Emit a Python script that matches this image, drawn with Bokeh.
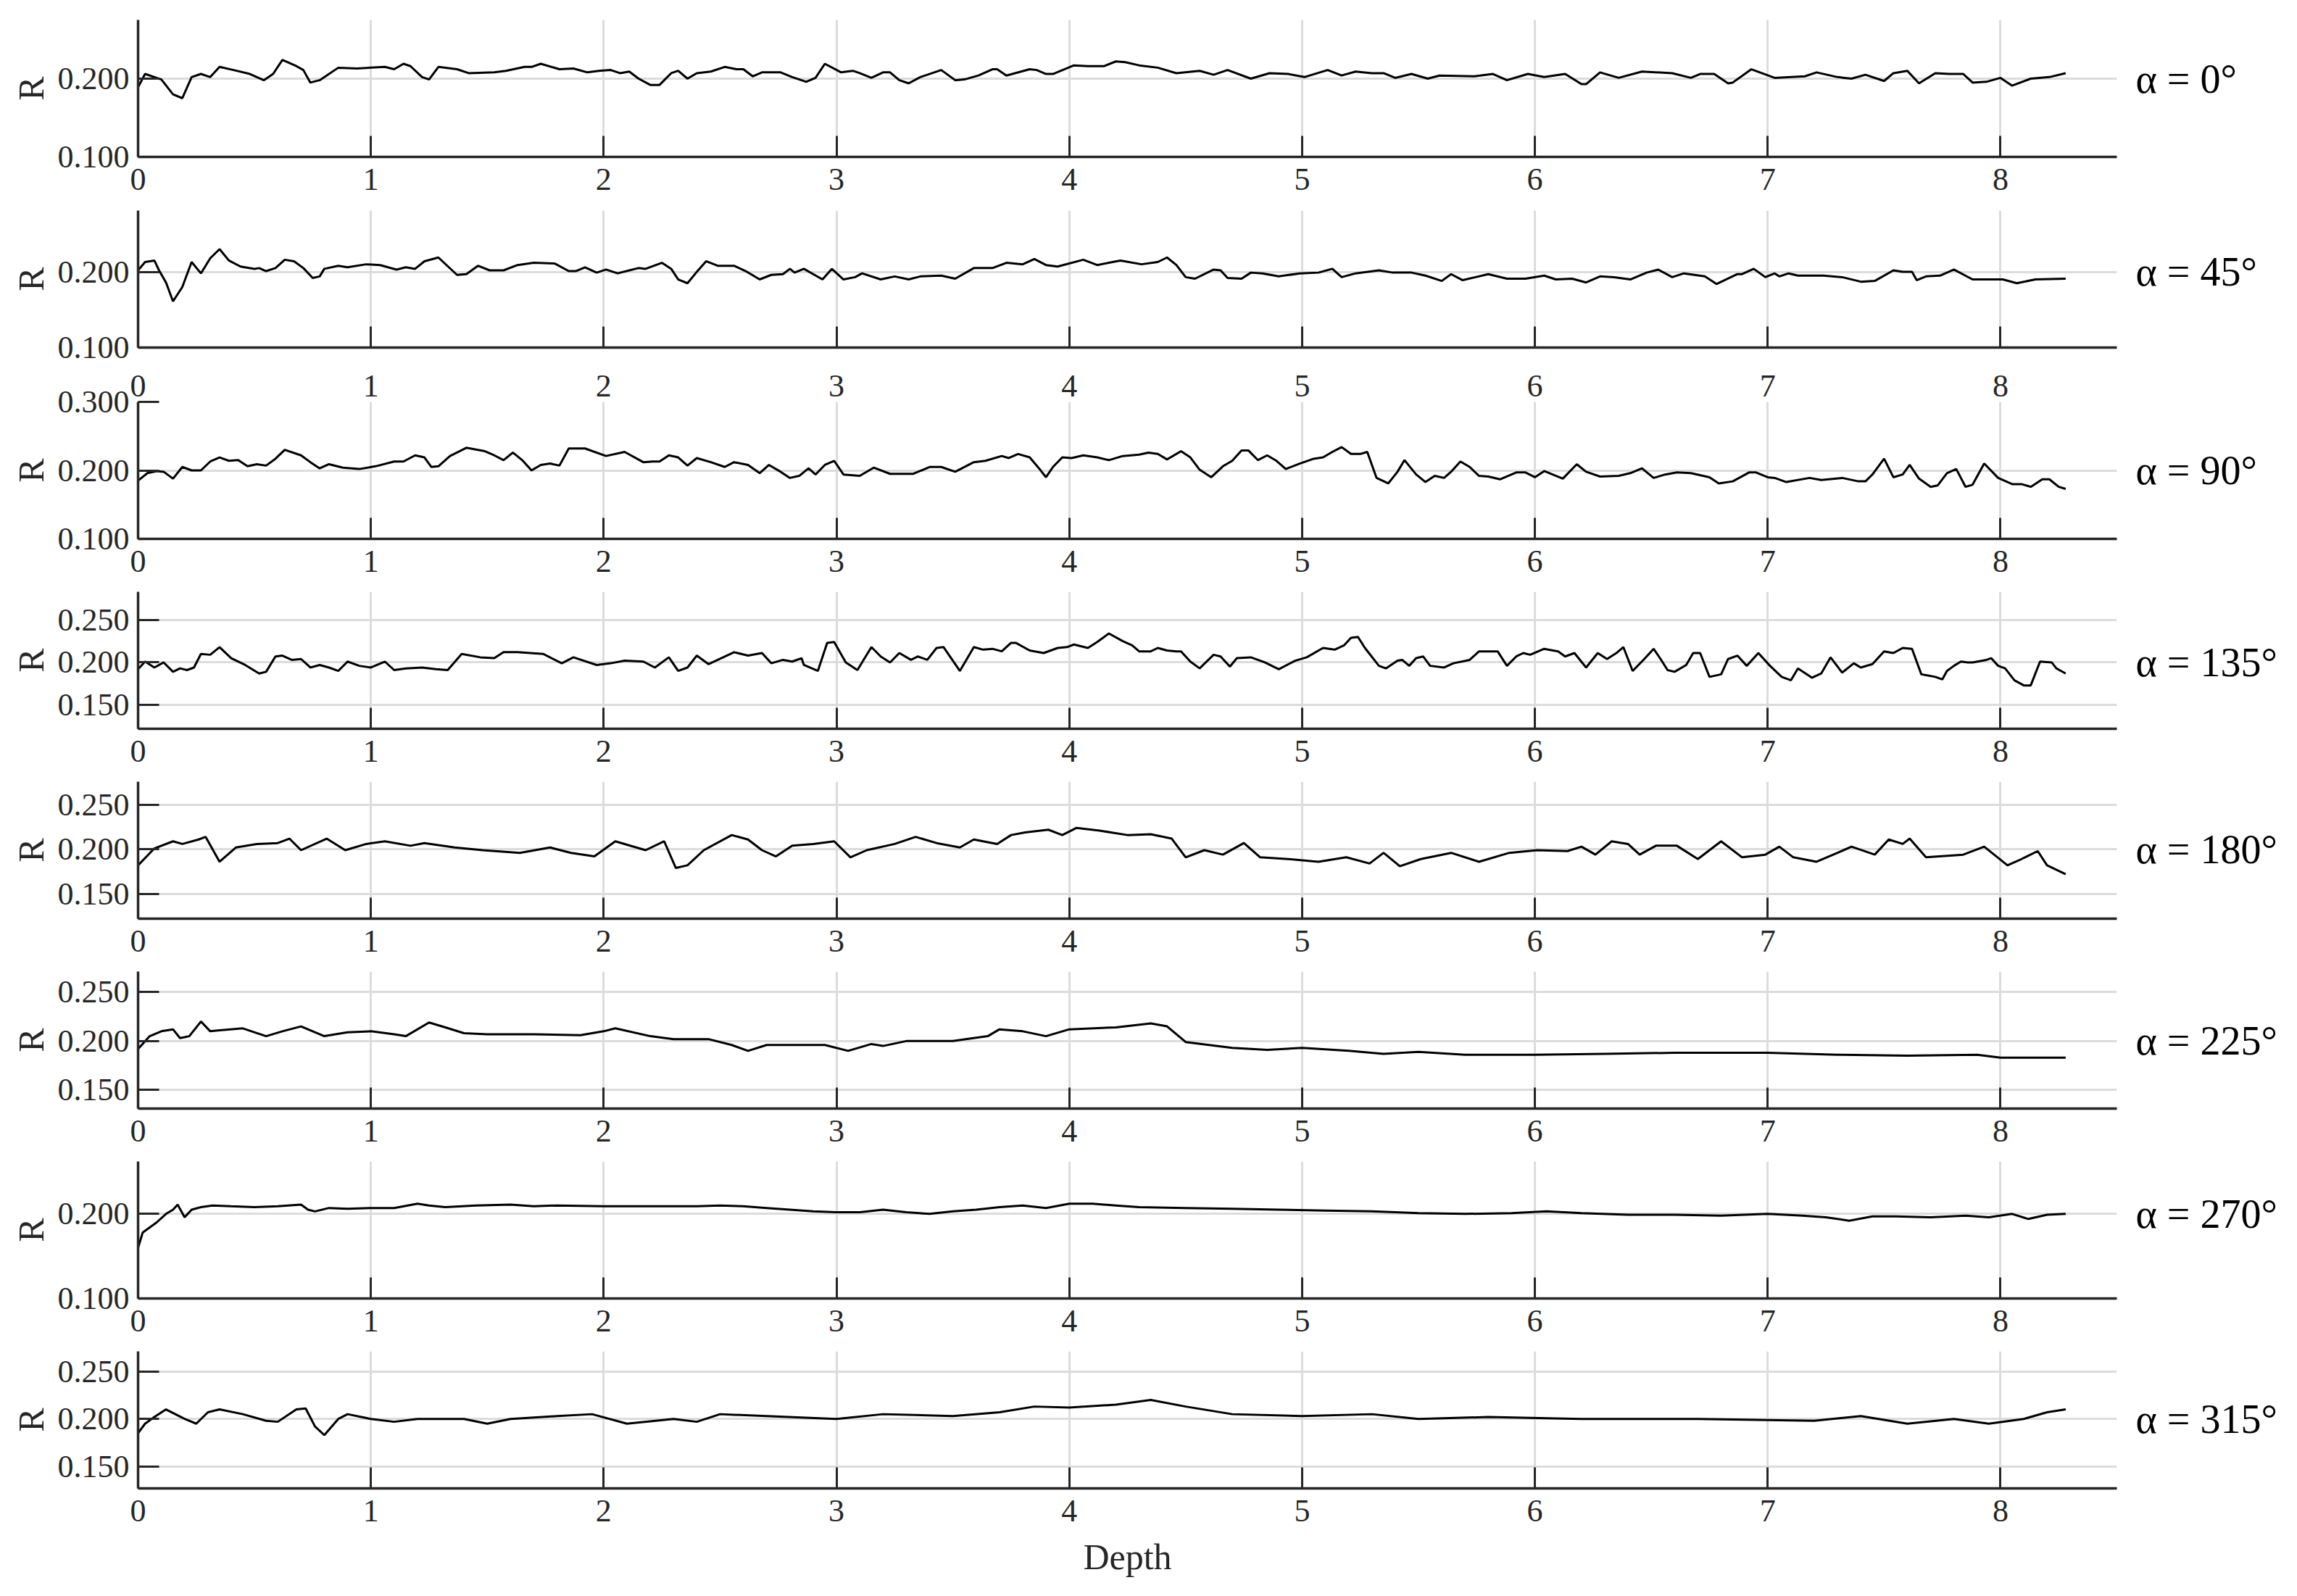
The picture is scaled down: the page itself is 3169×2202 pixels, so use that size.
from bokeh.plotting import figure
from bokeh.layouts import column, row
from bokeh.models import Range1d, FixedTicker, PrintfTickFormatter, LinearAxis
from bokeh.core.properties import value
from bokeh.embed import file_html
from bokeh.resources import INLINE

FONT = "Liberation Serif"

x_ticks = [0, 1, 2, 3, 4, 5, 6, 7, 8]
angle_labels = ["α = 0°", "α = 45°", "α = 90°", "α = 135°", "α = 180°", "α = 225°", "α = 270°", "α = 315°"]

depth_000 = [0.00,0.03,0.10,0.15,0.19,0.23,0.27,0.31,0.35,0.41,0.48,0.54,0.58,0.62,0.68,0.71,0.74,0.78,0.86,0.94,1.06,1.10,1.14,1.17,1.22,1.25,1.29,1.37,1.42,1.53,1.58,1.66,1.69,1.73,1.81,1.87,1.93,1.98,2.03,2.07,2.11,2.15,2.20,2.24,2.29,2.32,2.36,2.40,2.46,2.52,2.57,2.60,2.64,2.68,2.76,2.81,2.87,2.91,2.95,3.02,3.07,3.10,3.15,3.20,3.23,3.27,3.31,3.36,3.45,3.51,3.55,3.61,3.67,3.69,3.73,3.83,3.86,3.90,3.93,4.02,4.08,4.15,4.20,4.24,4.30,4.38,4.46,4.56,4.62,4.68,4.78,4.86,4.94,5.01,5.11,5.17,5.23,5.30,5.35,5.40,5.47,5.54,5.59,5.74,5.82,5.88,5.97,6.04,6.13,6.20,6.22,6.28,6.36,6.46,6.59,6.67,6.71,6.77,6.83,6.85,6.93,7.03,7.16,7.21,7.30,7.36,7.42,7.50,7.54,7.60,7.65,7.72,7.78,7.84,7.88,7.94,8.00,8.05,8.13,8.21,8.28]
r_000 = [0.189,0.206,0.199,0.180,0.175,0.202,0.206,0.202,0.215,0.211,0.206,0.198,0.206,0.224,0.216,0.211,0.195,0.198,0.214,0.213,0.215,0.212,0.219,0.216,0.202,0.199,0.215,0.212,0.207,0.208,0.210,0.215,0.215,0.219,0.212,0.213,0.208,0.210,0.211,0.207,0.209,0.200,0.192,0.192,0.207,0.210,0.200,0.207,0.209,0.215,0.212,0.212,0.203,0.208,0.208,0.202,0.196,0.201,0.219,0.208,0.210,0.207,0.201,0.208,0.208,0.198,0.194,0.202,0.211,0.198,0.199,0.204,0.212,0.212,0.204,0.212,0.211,0.206,0.206,0.217,0.216,0.216,0.222,0.221,0.217,0.214,0.207,0.210,0.205,0.211,0.200,0.207,0.206,0.202,0.211,0.204,0.209,0.207,0.207,0.201,0.206,0.200,0.204,0.203,0.206,0.198,0.206,0.202,0.206,0.193,0.193,0.208,0.201,0.209,0.207,0.201,0.206,0.206,0.194,0.195,0.212,0.201,0.203,0.208,0.202,0.200,0.205,0.197,0.207,0.210,0.194,0.207,0.206,0.206,0.195,0.196,0.201,0.191,0.200,0.202,0.207]

depth_045 = [0.00,0.03,0.07,0.09,0.12,0.15,0.19,0.23,0.27,0.31,0.35,0.39,0.44,0.50,0.52,0.55,0.59,0.63,0.67,0.71,0.75,0.78,0.80,0.86,0.90,0.98,1.04,1.11,1.15,1.19,1.23,1.29,1.37,1.41,1.46,1.51,1.57,1.63,1.70,1.79,1.85,1.88,1.92,1.97,2.01,2.06,2.11,2.15,2.18,2.25,2.29,2.32,2.36,2.40,2.44,2.49,2.56,2.61,2.67,2.72,2.77,2.80,2.82,2.86,2.90,2.94,2.98,3.03,3.08,3.11,3.19,3.25,3.31,3.36,3.45,3.51,3.59,3.67,3.73,3.80,3.85,3.90,3.95,4.06,4.12,4.17,4.22,4.31,4.38,4.42,4.46,4.50,4.54,4.62,4.65,4.68,4.74,4.78,4.83,4.90,4.99,5.07,5.13,5.17,5.23,5.33,5.39,5.47,5.53,5.60,5.64,5.69,5.80,5.88,5.96,6.04,6.09,6.16,6.22,6.28,6.34,6.41,6.48,6.53,6.59,6.64,6.73,6.78,6.87,6.89,6.94,6.99,7.03,7.05,7.09,7.13,7.24,7.32,7.40,7.46,7.54,7.58,7.62,7.64,7.68,7.74,7.80,7.88,8.01,8.07,8.15,8.28]
r_045 = [0.202,0.213,0.215,0.202,0.186,0.161,0.180,0.213,0.198,0.218,0.230,0.215,0.207,0.204,0.205,0.201,0.205,0.216,0.214,0.205,0.192,0.194,0.204,0.208,0.206,0.210,0.209,0.203,0.206,0.204,0.214,0.219,0.196,0.197,0.208,0.202,0.202,0.209,0.212,0.211,0.201,0.201,0.206,0.199,0.203,0.198,0.202,0.205,0.204,0.212,0.204,0.190,0.185,0.200,0.214,0.208,0.208,0.201,0.190,0.196,0.197,0.204,0.199,0.204,0.197,0.190,0.204,0.190,0.193,0.198,0.190,0.194,0.190,0.194,0.195,0.191,0.205,0.205,0.212,0.210,0.217,0.209,0.207,0.216,0.209,0.212,0.215,0.210,0.213,0.219,0.209,0.193,0.191,0.203,0.202,0.192,0.191,0.199,0.198,0.194,0.198,0.199,0.204,0.193,0.198,0.202,0.199,0.199,0.195,0.188,0.197,0.189,0.197,0.191,0.191,0.195,0.190,0.191,0.186,0.194,0.193,0.190,0.199,0.203,0.193,0.198,0.194,0.184,0.197,0.197,0.204,0.193,0.198,0.194,0.198,0.195,0.195,0.193,0.187,0.188,0.202,0.200,0.200,0.189,0.194,0.195,0.203,0.190,0.190,0.185,0.190,0.191]

depth_090 = [0.00,0.04,0.08,0.11,0.15,0.19,0.23,0.27,0.31,0.35,0.39,0.43,0.47,0.51,0.55,0.59,0.63,0.70,0.74,0.78,0.82,0.88,0.95,1.02,1.10,1.14,1.19,1.23,1.26,1.29,1.34,1.41,1.49,1.53,1.57,1.61,1.65,1.69,1.73,1.77,1.81,1.85,1.92,2.01,2.09,2.17,2.21,2.24,2.28,2.32,2.36,2.40,2.46,2.52,2.56,2.62,2.67,2.71,2.76,2.80,2.84,2.88,2.91,2.95,2.99,3.03,3.10,3.16,3.23,3.33,3.40,3.45,3.51,3.59,3.64,3.71,3.74,3.78,3.83,3.87,3.90,3.93,3.97,4.01,4.06,4.12,4.17,4.23,4.30,4.34,4.38,4.42,4.48,4.52,4.56,4.61,4.66,4.70,4.74,4.77,4.81,4.85,4.89,4.93,4.99,5.05,5.09,5.13,5.17,5.21,5.25,5.28,5.32,5.37,5.41,5.44,5.49,5.53,5.57,5.61,5.64,5.68,5.72,5.76,5.80,5.85,5.92,5.96,6.00,6.04,6.12,6.18,6.22,6.28,6.36,6.41,6.46,6.51,6.56,6.61,6.67,6.75,6.79,6.85,6.92,6.95,7.00,7.03,7.08,7.18,7.23,7.32,7.39,7.42,7.45,7.50,7.54,7.58,7.61,7.65,7.70,7.73,7.77,7.81,7.85,7.88,7.93,7.99,8.05,8.09,8.13,8.18,8.21,8.25,8.28]
r_090 = [0.185,0.196,0.199,0.198,0.188,0.205,0.200,0.200,0.213,0.219,0.214,0.215,0.206,0.209,0.207,0.217,0.230,0.222,0.212,0.203,0.209,0.204,0.202,0.206,0.213,0.213,0.222,0.219,0.205,0.206,0.221,0.233,0.228,0.222,0.215,0.226,0.215,0.200,0.208,0.210,0.207,0.232,0.232,0.221,0.227,0.212,0.213,0.213,0.222,0.219,0.207,0.218,0.212,0.205,0.212,0.208,0.196,0.208,0.198,0.189,0.192,0.203,0.194,0.208,0.214,0.194,0.192,0.204,0.195,0.195,0.205,0.205,0.198,0.212,0.214,0.221,0.218,0.224,0.219,0.203,0.190,0.205,0.219,0.218,0.222,0.219,0.215,0.221,0.223,0.226,0.224,0.216,0.228,0.219,0.201,0.190,0.206,0.214,0.229,0.229,0.215,0.222,0.214,0.202,0.210,0.217,0.219,0.227,0.234,0.224,0.224,0.227,0.189,0.181,0.198,0.215,0.194,0.183,0.192,0.189,0.198,0.213,0.205,0.192,0.191,0.187,0.197,0.197,0.190,0.199,0.188,0.209,0.198,0.191,0.192,0.196,0.203,0.189,0.194,0.197,0.196,0.190,0.181,0.184,0.197,0.197,0.190,0.189,0.183,0.189,0.186,0.189,0.184,0.184,0.194,0.217,0.190,0.194,0.208,0.188,0.176,0.178,0.196,0.202,0.176,0.179,0.210,0.189,0.180,0.180,0.176,0.187,0.187,0.176,0.173]

depth_135 = [0.00,0.03,0.07,0.11,0.15,0.18,0.21,0.24,0.27,0.31,0.35,0.40,0.46,0.52,0.55,0.59,0.62,0.66,0.70,0.74,0.78,0.82,0.86,0.90,0.95,1.00,1.06,1.10,1.15,1.22,1.28,1.33,1.39,1.47,1.53,1.57,1.63,1.74,1.82,1.87,1.97,2.03,2.09,2.17,2.22,2.28,2.32,2.36,2.40,2.45,2.56,2.62,2.68,2.72,2.77,2.81,2.85,2.86,2.92,2.96,2.99,3.04,3.09,3.15,3.19,3.23,3.27,3.32,3.35,3.39,3.43,3.46,3.53,3.59,3.63,3.67,3.71,3.75,3.77,3.83,3.89,3.95,3.99,4.02,4.08,4.12,4.17,4.23,4.27,4.30,4.35,4.38,4.42,4.46,4.48,4.52,4.56,4.62,4.65,4.69,4.72,4.78,4.84,4.90,4.97,5.02,5.09,5.14,5.18,5.21,5.24,5.27,5.33,5.36,5.41,5.43,5.46,5.49,5.52,5.55,5.61,5.65,5.72,5.76,5.80,5.84,5.88,5.92,5.95,5.98,6.04,6.10,6.13,6.17,6.22,6.27,6.31,6.35,6.38,6.42,6.47,6.51,6.54,6.57,6.60,6.65,6.68,6.71,6.75,6.80,6.83,6.87,6.91,6.96,7.01,7.06,7.10,7.13,7.19,7.23,7.27,7.32,7.37,7.40,7.45,7.50,7.54,7.58,7.62,7.66,7.68,7.72,7.75,7.77,7.80,7.83,7.86,7.88,7.94,7.96,7.99,8.02,8.06,8.10,8.13,8.17,8.22,8.24,8.28]
r_135 = [0.192,0.201,0.194,0.200,0.189,0.193,0.191,0.194,0.210,0.209,0.218,0.205,0.197,0.187,0.189,0.207,0.208,0.203,0.204,0.194,0.197,0.194,0.190,0.201,0.196,0.194,0.201,0.191,0.193,0.194,0.192,0.191,0.210,0.206,0.205,0.212,0.212,0.210,0.199,0.206,0.197,0.199,0.202,0.201,0.194,0.206,0.190,0.194,0.208,0.198,0.212,0.208,0.211,0.199,0.203,0.201,0.205,0.197,0.190,0.223,0.224,0.200,0.191,0.218,0.207,0.200,0.211,0.203,0.207,0.203,0.217,0.218,0.190,0.218,0.215,0.216,0.213,0.223,0.223,0.214,0.211,0.217,0.218,0.221,0.217,0.224,0.234,0.225,0.220,0.213,0.213,0.217,0.214,0.213,0.213,0.201,0.193,0.209,0.207,0.195,0.205,0.206,0.200,0.192,0.202,0.206,0.217,0.215,0.220,0.229,0.230,0.217,0.196,0.193,0.202,0.203,0.196,0.205,0.207,0.196,0.194,0.199,0.203,0.213,0.213,0.213,0.196,0.207,0.211,0.209,0.216,0.213,0.207,0.211,0.194,0.211,0.204,0.211,0.218,0.190,0.204,0.216,0.204,0.191,0.189,0.197,0.211,0.211,0.183,0.186,0.204,0.208,0.196,0.211,0.196,0.183,0.179,0.193,0.182,0.187,0.206,0.188,0.199,0.194,0.198,0.213,0.211,0.217,0.216,0.186,0.185,0.183,0.180,0.190,0.196,0.201,0.200,0.200,0.203,0.205,0.196,0.193,0.179,0.173,0.173,0.201,0.200,0.193,0.187]

depth_180 = [0.00,0.07,0.15,0.19,0.26,0.29,0.35,0.42,0.51,0.60,0.65,0.70,0.81,0.89,0.98,1.06,1.17,1.23,1.36,1.48,1.64,1.77,1.86,1.96,2.05,2.18,2.26,2.31,2.36,2.43,2.55,2.62,2.68,2.74,2.81,2.90,2.99,3.06,3.13,3.25,3.34,3.43,3.53,3.59,3.69,3.75,3.81,3.91,3.97,4.03,4.13,4.25,4.35,4.44,4.50,4.58,4.66,4.75,4.82,4.94,5.07,5.19,5.29,5.35,5.42,5.51,5.64,5.76,5.89,6.01,6.14,6.20,6.26,6.33,6.40,6.45,6.52,6.61,6.70,6.80,6.89,6.99,7.05,7.11,7.21,7.30,7.36,7.46,7.52,7.58,7.61,7.68,7.84,7.93,8.03,8.09,8.16,8.20,8.28]
r_180 = [0.182,0.201,0.209,0.206,0.211,0.214,0.186,0.202,0.206,0.207,0.212,0.199,0.212,0.199,0.206,0.209,0.204,0.207,0.202,0.199,0.196,0.202,0.196,0.192,0.209,0.199,0.209,0.179,0.182,0.199,0.216,0.211,0.199,0.192,0.204,0.206,0.209,0.191,0.199,0.206,0.214,0.207,0.202,0.211,0.206,0.216,0.219,0.222,0.216,0.224,0.221,0.216,0.217,0.212,0.191,0.199,0.194,0.207,0.191,0.189,0.186,0.191,0.184,0.196,0.181,0.189,0.196,0.186,0.196,0.199,0.198,0.203,0.194,0.209,0.206,0.194,0.204,0.204,0.189,0.209,0.191,0.194,0.203,0.191,0.186,0.196,0.203,0.194,0.211,0.206,0.212,0.191,0.194,0.203,0.182,0.189,0.198,0.182,0.172]

depth_225 = [0.00,0.05,0.10,0.15,0.18,0.22,0.27,0.31,0.35,0.45,0.55,0.62,0.70,0.80,0.90,1.00,1.10,1.15,1.25,1.32,1.40,1.50,1.70,1.90,2.00,2.05,2.20,2.30,2.45,2.55,2.62,2.70,2.85,2.95,3.05,3.15,3.20,3.30,3.50,3.65,3.70,3.80,3.90,4.00,4.20,4.35,4.42,4.50,4.60,4.70,4.85,5.00,5.20,5.35,5.50,5.70,6.00,6.30,6.60,7.00,7.30,7.60,7.90,8.00,8.28]
r_225 = [0.192,0.205,0.210,0.212,0.203,0.205,0.220,0.210,0.211,0.213,0.205,0.210,0.215,0.205,0.209,0.210,0.207,0.205,0.219,0.214,0.208,0.207,0.207,0.206,0.210,0.213,0.205,0.202,0.202,0.196,0.190,0.196,0.196,0.196,0.190,0.197,0.195,0.200,0.200,0.205,0.212,0.210,0.205,0.212,0.214,0.218,0.215,0.199,0.196,0.193,0.191,0.193,0.190,0.187,0.189,0.186,0.186,0.187,0.188,0.188,0.186,0.185,0.186,0.183,0.183]

depth_270 = [0.00,0.02,0.05,0.08,0.12,0.15,0.17,0.20,0.23,0.27,0.32,0.40,0.50,0.60,0.70,0.73,0.76,0.82,0.90,1.00,1.10,1.20,1.25,1.32,1.45,1.60,1.70,1.80,2.00,2.20,2.40,2.50,2.60,2.70,2.80,2.90,3.00,3.10,3.20,3.30,3.40,3.50,3.60,3.70,3.80,3.90,4.00,4.10,4.20,4.30,4.50,4.70,4.90,5.10,5.30,5.50,5.70,5.90,6.05,6.20,6.40,6.60,6.80,7.00,7.15,7.25,7.35,7.45,7.55,7.70,7.85,7.95,8.05,8.12,8.20,8.28]
r_270 = [0.160,0.178,0.184,0.190,0.200,0.205,0.211,0.196,0.205,0.208,0.210,0.209,0.208,0.209,0.211,0.205,0.203,0.207,0.206,0.207,0.207,0.212,0.210,0.208,0.210,0.211,0.209,0.210,0.209,0.209,0.209,0.210,0.209,0.207,0.205,0.203,0.202,0.202,0.205,0.202,0.200,0.203,0.205,0.208,0.210,0.207,0.212,0.212,0.210,0.208,0.207,0.206,0.205,0.204,0.203,0.201,0.200,0.201,0.203,0.201,0.199,0.199,0.198,0.200,0.198,0.196,0.192,0.197,0.197,0.196,0.198,0.196,0.200,0.194,0.199,0.200]

depth_315 = [0.00,0.03,0.07,0.12,0.16,0.20,0.25,0.30,0.35,0.45,0.55,0.60,0.68,0.72,0.76,0.80,0.86,0.90,1.00,1.10,1.20,1.40,1.50,1.60,1.80,1.95,2.10,2.30,2.40,2.50,2.70,3.00,3.20,3.50,3.70,3.85,4.00,4.20,4.35,4.50,4.70,5.00,5.30,5.50,5.80,6.20,6.70,7.20,7.40,7.60,7.80,7.95,8.10,8.20,8.28]
r_315 = [0.185,0.195,0.202,0.210,0.205,0.200,0.195,0.207,0.210,0.205,0.198,0.197,0.210,0.211,0.192,0.183,0.200,0.205,0.200,0.197,0.200,0.200,0.195,0.200,0.203,0.205,0.195,0.200,0.197,0.205,0.203,0.200,0.205,0.203,0.207,0.213,0.212,0.215,0.220,0.213,0.205,0.203,0.205,0.200,0.202,0.200,0.200,0.198,0.203,0.195,0.200,0.195,0.200,0.207,0.210]

y_limits = [(0.100, 0.275), (0.100, 0.281), (0.100, 0.300), (0.122, 0.283),
            (0.122, 0.276), (0.131, 0.271), (0.100, 0.262), (0.127, 0.271)]
y_tick_sets = [[0.1, 0.2], [0.1, 0.2], [0.1, 0.2, 0.3], [0.15, 0.2, 0.25],
               [0.15, 0.2, 0.25], [0.15, 0.2, 0.25], [0.1, 0.2], [0.15, 0.2, 0.25]]

series = [(depth_000, r_000), (depth_045, r_045), (depth_090, r_090), (depth_135, r_135),
          (depth_180, r_180), (depth_225, r_225), (depth_270, r_270), (depth_315, r_315)]

AXIS_COLOR = "#262626"
GRID_COLOR = "#dcdcdc"
FRAME_W = 2730
FRAME_H = 189
LABEL_W = 240

# margins (px) above / below each panel's plotting frame
TOPS = [27, 6, 51, 6, 6, 6, 6, 6]
BOTTOMS = [68, 24, 67, 67, 67, 67, 67, 140]


def style_tick_labels(ax):
    ax.major_label_text_font = FONT
    ax.major_label_text_font_size = "44px"
    ax.major_label_text_color = AXIS_COLOR


rows = []
for i in range(8):
    last = (i == 7)
    # panel 2's depth labels are set in panel 3's top margin, which leaves
    # room for panel 3's "0.300" label at the top of its R axis
    labels_below = (i != 1)
    labels_from_above = (i == 2)
    top = TOPS[i]
    bottom = BOTTOMS[i]

    p = figure(frame_width=FRAME_W, frame_height=FRAME_H,
               x_range=Range1d(0, 8.5), y_range=Range1d(*y_limits[i]),
               output_backend="svg", toolbar_location=None,
               min_border_left=190, min_border_right=5,
               min_border_top=top, min_border_bottom=bottom)
    p.outline_line_color = None
    p.background_fill_color = "white"
    p.border_fill_color = "white"

    for ax in (p.xaxis[0], p.yaxis[0]):
        ax.axis_line_color = AXIS_COLOR
        ax.axis_line_width = 3.5
        ax.major_tick_in = 29
        ax.major_tick_out = 0
        ax.major_tick_line_width = 3
        ax.major_tick_line_color = AXIS_COLOR
        ax.minor_tick_line_color = None
        style_tick_labels(ax)

    p.xaxis.ticker = FixedTicker(ticks=x_ticks)
    p.xaxis.major_label_standoff = 16
    if not labels_below:
        p.xaxis.major_label_text_color = None
        p.xaxis.major_label_text_alpha = 0
        p.xaxis.major_label_standoff = 0
    if last:
        p.xaxis.axis_label = "Depth"
        p.xaxis.axis_label_text_font = FONT
        p.xaxis.axis_label_text_font_size = "50px"
        p.xaxis.axis_label_text_font_style = "normal"
        p.xaxis.axis_label_text_color = AXIS_COLOR
        p.xaxis.axis_label_standoff = 18

    if labels_from_above:
        top_ax = LinearAxis(ticker=FixedTicker(ticks=x_ticks))
        top_ax.axis_line_color = None
        top_ax.major_tick_line_color = None
        top_ax.minor_tick_line_color = None
        top_ax.major_label_standoff = 2
        style_tick_labels(top_ax)
        p.add_layout(top_ax, "above")

    p.yaxis.ticker = FixedTicker(ticks=y_tick_sets[i])
    p.yaxis.formatter = PrintfTickFormatter(format="%.3f")
    p.yaxis.major_label_standoff = 12
    p.yaxis.axis_label = "R"
    p.yaxis.axis_label_text_font = FONT
    p.yaxis.axis_label_text_font_size = "50px"
    p.yaxis.axis_label_text_font_style = "normal"
    p.yaxis.axis_label_text_color = AXIS_COLOR
    p.yaxis.axis_label_standoff = 6

    p.xgrid.ticker = FixedTicker(ticks=x_ticks)
    p.ygrid.ticker = FixedTicker(ticks=y_tick_sets[i])
    p.xgrid.grid_line_color = GRID_COLOR
    p.ygrid.grid_line_color = GRID_COLOR
    p.xgrid.grid_line_width = 3
    p.ygrid.grid_line_width = 3

    d, r = series[i]
    n = min(len(d), len(r))
    p.line(d[:n], r[:n], line_color="black", line_width=3)

    # panel caption on the right, sharing the panel's R scale (placed at R = 0.2)
    q = figure(frame_width=LABEL_W, frame_height=FRAME_H,
               x_range=Range1d(0, 1), y_range=p.y_range,
               output_backend="svg", toolbar_location=None,
               x_axis_location=None, y_axis_location=None,
               min_border_left=0, min_border_right=0,
               min_border_top=top, min_border_bottom=bottom)
    q.outline_line_color = None
    q.xgrid.visible = False
    q.ygrid.visible = False
    q.background_fill_color = "white"
    q.border_fill_color = "white"
    q.text(x=[21 / LABEL_W], y=[0.2], text=[angle_labels[i]],
           text_font=value(FONT), text_font_size="56px",
           text_baseline="middle", text_align="left", text_color="black")

    rows.append(row(p, q, spacing=0))

layout = column(*rows, spacing=0)
open("out.html", "w").write(file_html(layout, INLINE))
